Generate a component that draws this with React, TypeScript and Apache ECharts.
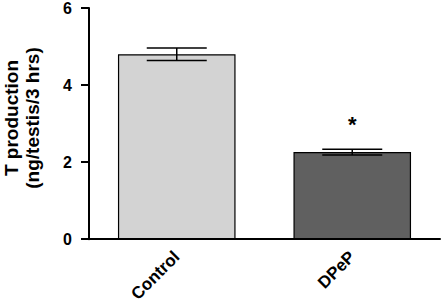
import React, { useEffect, useRef } from "react";
import * as echarts from "echarts";

const categories = ["Control", "DPeP"];
const means = [4.8, 2.26];
const errors = [0.16, 0.075];
const barColors = ["#d3d3d3", "#606060"];
const significance = ["", "*"];
const yTicks = [0, 2, 4, 6];

export default function App() {
  const ref = useRef<HTMLDivElement>(null);
  useEffect(() => {
    document.body.style.margin = "0";
    const chart = echarts.init(ref.current!, null, { renderer: "svg" });
    const font = "Liberation Sans, Arial, Helvetica, sans-serif";
    chart.setOption({
      animation: false,
      backgroundColor: "#ffffff",
      grid: { left: 89, right: 2, top: 7, bottom: 64, containLabel: false },
      xAxis: {
        type: "category",
        data: categories,
        axisLine: { lineStyle: { color: "#000", width: 2 } },
        axisTick: { alignWithLabel: true, length: 6, lineStyle: { color: "#000", width: 2 } },
        axisLabel: {
          rotate: 45,
          margin: 15,
          color: "#000",
          fontWeight: "bold",
          fontSize: 17,
          fontFamily: font,
        },
      },
      yAxis: {
        type: "value",
        min: yTicks[0],
        max: yTicks[yTicks.length - 1],
        interval: 2,
        axisLine: { show: true, lineStyle: { color: "#000", width: 2 } },
        axisTick: { show: true, length: 8, lineStyle: { color: "#000", width: 2 } },
        splitLine: { show: false },
        axisLabel: {
          margin: 17,
          color: "#000",
          fontWeight: "bold",
          fontSize: 16,
          fontFamily: font,
        },
      },
      graphic: [
        {
          type: "text",
          x: 11,
          y: 118,
          rotation: Math.PI / 2,
          style: {
            text: "T production",
            font: `bold 19px ${font}`,
            fill: "#000",
            textAlign: "center",
            textVerticalAlign: "middle",
          },
        },
        {
          type: "text",
          x: 32,
          y: 118,
          rotation: Math.PI / 2,
          style: {
            text: "(ng/testis/3 hrs)",
            font: `bold 19px ${font}`,
            fill: "#000",
            textAlign: "center",
            textVerticalAlign: "middle",
          },
        },
      ],
      series: [
        {
          type: "bar",
          barWidth: "67%",
          data: means.map((v, i) => ({
            value: v,
            itemStyle: { color: barColors[i], borderColor: "#000", borderWidth: 1.2 },
          })),
        },
        {
          type: "custom",
          data: means.map((v, i) => [i, v - errors[i], v + errors[i], significance[i]]),
          renderItem: (params: any, api: any) => {
            const i = api.value(0);
            const lo = api.coord([i, api.value(1)]);
            const hi = api.coord([i, api.value(2)]);
            const half = 30;
            const children: any[] = [
              {
                type: "line",
                shape: { x1: hi[0], y1: hi[1], x2: lo[0], y2: lo[1] },
                style: { stroke: "#000", lineWidth: 1.5 },
              },
              {
                type: "line",
                shape: { x1: hi[0] - half, y1: hi[1], x2: hi[0] + half, y2: hi[1] },
                style: { stroke: "#000", lineWidth: 1.5 },
              },
              {
                type: "line",
                shape: { x1: lo[0] - half, y1: lo[1], x2: lo[0] + half, y2: lo[1] },
                style: { stroke: "#000", lineWidth: 1.5 },
              },
            ];
            const sig = significance[params.dataIndex];
            if (sig) {
              children.push({
                type: "text",
                x: hi[0],
                y: hi[1] - 25,
                style: {
                  text: sig,
                  font: `bold 22px ${font}`,
                  fill: "#000",
                  textAlign: "center",
                  textVerticalAlign: "middle",
                },
              });
            }
            return { type: "group", children };
          },
          z: 5,
        },
      ],
    });
    return () => chart.dispose();
  }, []);
  return <div ref={ref} style={{ width: 442, height: 305 }} />;
}
